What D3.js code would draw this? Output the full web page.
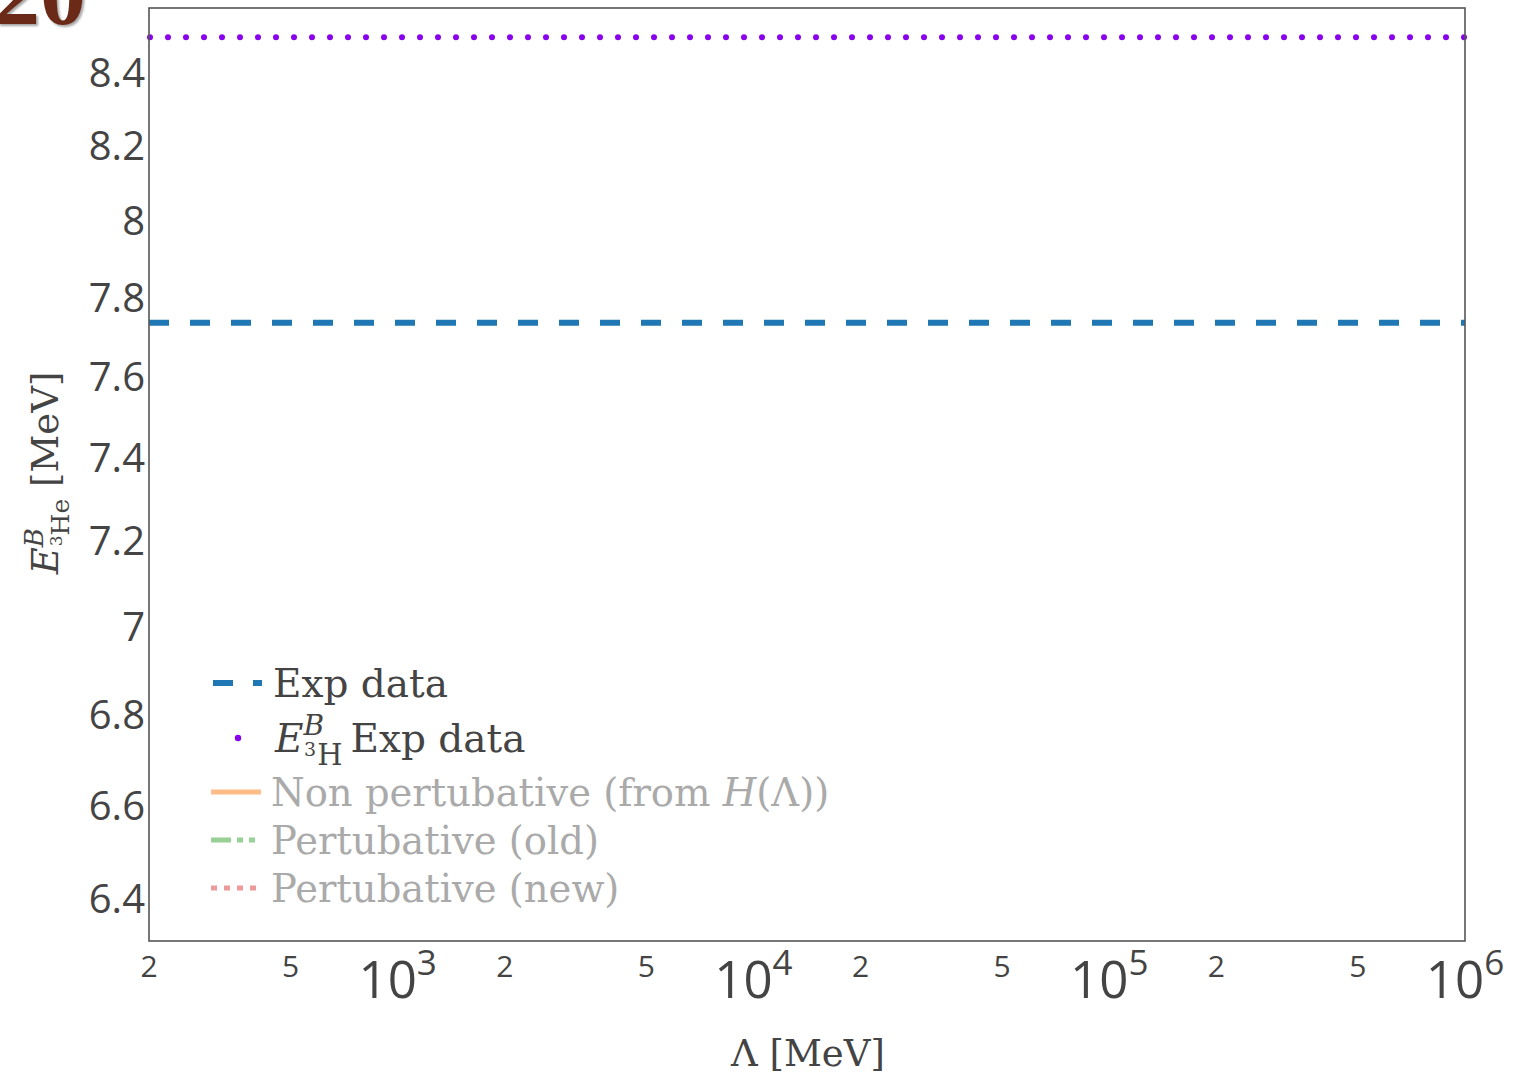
<!DOCTYPE html>
<html>
<head>
<meta charset="utf-8">
<script src="https://cdn.jsdelivr.net/npm/d3@7"></script>
<style>
  body { margin: 0; background: #fff; }
  svg { display: block; }
  .tick-lbl { font-family: "Open Sans", sans-serif; fill: #444; }
  .serif { font-family: "DejaVu Serif", "Liberation Serif", serif; }
</style>
</head>
<body>
<svg width="1520" height="1078"></svg>
<script>
// data
var xDomain = [200, 1e6];
var yDomain = [6.312, 8.579];
var yTicks = [6.4, 6.6, 6.8, 7, 7.2, 7.4, 7.6, 7.8, 8, 8.2, 8.4];
var xMajor = [1e3, 1e4, 1e5, 1e6];
var xMinor = [200, 500, 2000, 5000, 20000, 50000, 200000, 500000];
var expHe = 7.735;   // blue dashed
var expH = 8.497;    // purple dotted
var legendLabels = ["Exp data", "E3H Exp data", "Non pertubative (from H(Λ))", "Pertubative (old)", "Pertubative (new)"];

var svg = d3.select("svg"),
    margin = {top: 8, right: 55, bottom: 137, left: 149},
    width = 1520 - margin.left - margin.right,
    height = 1078 - margin.top - margin.bottom;

var x = d3.scaleLog().domain(xDomain).range([0, width]);
var y = d3.scaleLog().domain(yDomain).range([height, 0]);

// cropped title remnant top-left
svg.append("text")
    .attr("x", -6).attr("y", 24)
    .style("font-family", "Liberation Serif, serif")
    .style("font-size", "92px").style("font-weight", "bold")
    .attr("fill", "#6b2a17")
    .style("filter", "drop-shadow(2px 2px 1px rgba(0,0,0,0.35))")
    .text("20");

var g = svg.append("g").attr("transform", "translate(" + margin.left + "," + margin.top + ")");

// horizontal reference lines
var line = d3.line().x(function(d) { return x(d[0]); }).y(function(d) { return y(d[1]); });

g.append("path")
    .datum([[xDomain[0], expHe], [xDomain[1], expHe]])
    .attr("d", line)
    .attr("fill", "none")
    .attr("stroke", "#1f77b4")
    .attr("stroke-width", 6)
    .attr("stroke-dasharray", "20,21");

g.append("path")
    .datum([[xDomain[0], expH], [xDomain[1], expH]])
    .attr("d", line)
    .attr("fill", "none")
    .attr("stroke", "#8800ee")
    .attr("stroke-width", 6)
    .attr("stroke-linecap", "round")
    .attr("stroke-dasharray", "0,18")
    .attr("stroke-dashoffset", -1);

// frame
g.append("rect")
    .attr("width", width).attr("height", height)
    .attr("fill", "none").attr("stroke", "#555").attr("stroke-width", 1.6);

// y tick labels
g.selectAll(".ylab").data(yTicks).enter().append("text")
    .attr("class", "tick-lbl")
    .attr("x", -4)
    .attr("y", function(d) { return y(d); })
    .attr("dy", "0.36em")
    .attr("text-anchor", "end")
    .style("font-size", "40px")
    .text(function(d) { return d3.format("")(d); });

// x minor labels
g.selectAll(".xmin").data(xMinor).enter().append("text")
    .attr("class", "tick-lbl")
    .attr("x", function(d) { return x(d); })
    .attr("y", height + 36)
    .attr("text-anchor", "middle")
    .style("font-size", "30px")
    .text(function(d) { return String(d)[0]; });

// x major labels 10^n
var maj = g.selectAll(".xmaj").data(xMajor).enter().append("text")
    .attr("class", "tick-lbl")
    .attr("x", function(d) { return x(d); })
    .attr("y", height + 57)
    .attr("text-anchor", "middle")
    .style("font-size", "51px");
maj.append("tspan").text("10");
maj.append("tspan").attr("dy", -23).style("font-size", "35px")
    .text(function(d) { return Math.round(Math.log10(d)); });

// x axis title
svg.append("text")
    .attr("class", "serif")
    .attr("x", 808).attr("y", 1066)
    .attr("text-anchor", "middle")
    .attr("fill", "#444")
    .style("font-size", "37px")
    .text("Λ [MeV]");

// y axis title
var yt = svg.append("text")
    .attr("class", "serif")
    .attr("transform", "translate(58,473) rotate(-90)")
    .attr("text-anchor", "middle")
    .attr("fill", "#444")
    .style("font-size", "37px");
yt.append("tspan").style("font-style", "italic").text("E");
yt.append("tspan").style("font-style", "italic").style("font-size", "26px").attr("dy", -15).text("B");
yt.append("tspan").style("font-size", "17px").attr("dx", -18).attr("dy", 19).text("3");
yt.append("tspan").style("font-size", "25px").attr("dy", 7).text("He");
yt.append("tspan").attr("dy", -11).text(" [MeV]");

// legend
var legY = [683, 738, 792, 840, 888];
var legColors = ["#1f77b4", "#8800ee", "#ffbb88", "#98d098", "#ee9a9a"];
var textX = 273;

// Exp data
svg.append("line").attr("x1", 213).attr("x2", 262).attr("y1", legY[0]).attr("y2", legY[0])
    .attr("stroke", legColors[0]).attr("stroke-width", 6).attr("stroke-dasharray", "20,20");
svg.append("text").attr("class", "serif").attr("x", textX).attr("y", legY[0] + 14)
    .attr("fill", "#444").style("font-size", "39px").text(legendLabels[0]);

// E3H Exp data
svg.append("circle").attr("cx", 238).attr("cy", legY[1]).attr("r", 3.2).attr("fill", legColors[1]);
var l2 = svg.append("text").attr("class", "serif").attr("x", textX + 2).attr("y", legY[1] + 14)
    .attr("fill", "#444").style("font-size", "39px");
l2.append("tspan").style("font-style", "italic").text("E");
l2.append("tspan").style("font-style", "italic").style("font-size", "28px").attr("dy", -17).text("B");
l2.append("tspan").style("font-size", "19px").attr("dx", -20).attr("dy", 21).text("3");
l2.append("tspan").style("font-size", "29px").attr("dx", 1).attr("dy", 9).text("H");
l2.append("tspan").attr("dx", 8).attr("dy", -13).text("Exp data");

// faded entries
svg.append("line").attr("x1", 211).attr("x2", 261).attr("y1", legY[2]).attr("y2", legY[2])
    .attr("stroke", legColors[2]).attr("stroke-width", 5);
svg.append("line").attr("x1", 211).attr("x2", 261).attr("y1", legY[3]).attr("y2", legY[3])
    .attr("stroke", legColors[3]).attr("stroke-width", 5).attr("stroke-dasharray", "20,6,6,6,6,6");
svg.append("line").attr("x1", 211).attr("x2", 261).attr("y1", legY[4]).attr("y2", legY[4])
    .attr("stroke", legColors[4]).attr("stroke-width", 5).attr("stroke-dasharray", "6,7");

var l3 = svg.append("text").attr("class", "serif").attr("x", textX - 2).attr("y", legY[2] + 14)
    .attr("fill", "#aaa").style("font-size", "38.5px");
l3.append("tspan").text("Non pertubative (from ");
l3.append("tspan").style("font-style", "italic").text("H");
l3.append("tspan").text("(Λ))");
svg.append("text").attr("class", "serif").attr("x", textX - 2).attr("y", legY[3] + 14)
    .attr("fill", "#aaa").style("font-size", "38.5px").text(legendLabels[3]);
svg.append("text").attr("class", "serif").attr("x", textX - 2).attr("y", legY[4] + 14)
    .attr("fill", "#aaa").style("font-size", "38.5px").text(legendLabels[4]);
</script>
</body>
</html>
